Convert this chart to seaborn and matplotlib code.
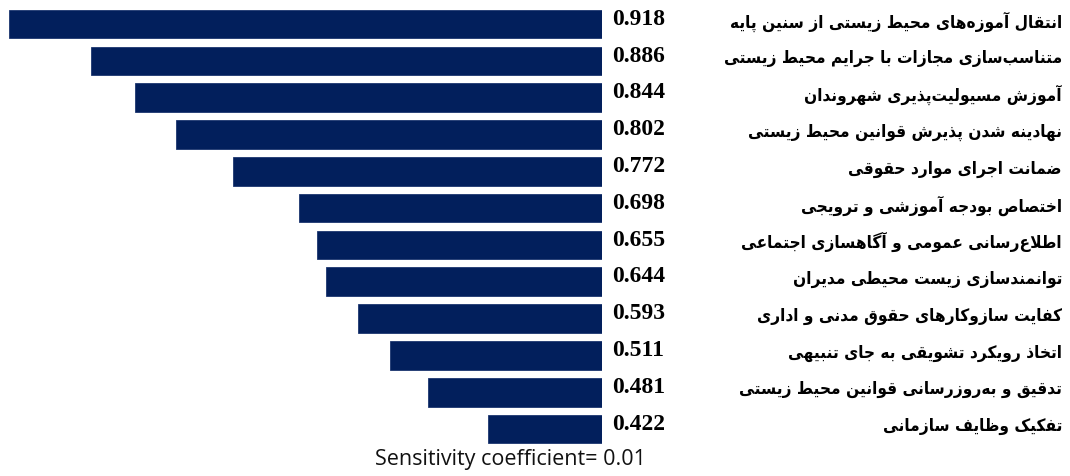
import numpy as np
import pandas as pd
import seaborn as sns
import matplotlib.pyplot as plt
from matplotlib.transforms import blended_transform_factory

# ---------------------------------------------------------
# Data
# ---------------------------------------------------------
items = [
    "انتقال آموزه\u200cهای محیط زیستی از سنین پایه",
    "متناسب\u200cسازی مجازات با جرایم محیط زیستی",
    "آموزش مسیولیت\u200cپذیری شهروندان",
    "نهادینه شدن پذیرش قوانین محیط زیستی",
    "ضمانت اجرای موارد حقوقی",
    "اختصاص بودجه آموزشی و ترویجی",
    "اطلاع\u200cرسانی عمومی و آگاهسازی اجتماعی",
    "توانمندسازی زیست محیطی مدیران",
    "کفایت سازوکارهای حقوق مدنی و اداری",
    "اتخاذ رویکرد تشویقی به جای تنبیهی",
    "تدقیق و به\u200cروزرسانی قوانین محیط زیستی",
    "تفکیک وظایف سازمانی",
]
values = [0.918, 0.886, 0.844, 0.802, 0.772, 0.698, 0.655, 0.644, 0.593, 0.511, 0.481, 0.422]
# relative bar lengths as drawn in the source (longest bar = 1)
bar_length = [1.000, 0.862, 0.788, 0.718, 0.622, 0.511, 0.481, 0.465, 0.411, 0.358, 0.293, 0.192]
note = "Sensitivity coefficient= 0.01"

# ---------------------------------------------------------
# Minimal Persian shaping (matplotlib has no bidi / joining)
# forms: isolated, final, initial, medial
# ---------------------------------------------------------
FORMS = {
    'ا': (0xFE8D, 0xFE8E, None, None), 'آ': (0xFE81, 0xFE82, None, None),
    'ب': (0xFE8F, 0xFE90, 0xFE91, 0xFE92), 'پ': (0xFB56, 0xFB57, 0xFB58, 0xFB59),
    'ت': (0xFE95, 0xFE96, 0xFE97, 0xFE98), 'ث': (0xFE99, 0xFE9A, 0xFE9B, 0xFE9C),
    'ج': (0xFE9D, 0xFE9E, 0xFE9F, 0xFEA0), 'چ': (0xFB7A, 0xFB7B, 0xFB7C, 0xFB7D),
    'ح': (0xFEA1, 0xFEA2, 0xFEA3, 0xFEA4), 'خ': (0xFEA5, 0xFEA6, 0xFEA7, 0xFEA8),
    'د': (0xFEA9, 0xFEAA, None, None), 'ذ': (0xFEAB, 0xFEAC, None, None),
    'ر': (0xFEAD, 0xFEAE, None, None), 'ز': (0xFEAF, 0xFEB0, None, None),
    'ژ': (0xFB8A, 0xFB8B, None, None),
    'س': (0xFEB1, 0xFEB2, 0xFEB3, 0xFEB4), 'ش': (0xFEB5, 0xFEB6, 0xFEB7, 0xFEB8),
    'ص': (0xFEB9, 0xFEBA, 0xFEBB, 0xFEBC), 'ض': (0xFEBD, 0xFEBE, 0xFEBF, 0xFEC0),
    'ط': (0xFEC1, 0xFEC2, 0xFEC3, 0xFEC4), 'ظ': (0xFEC5, 0xFEC6, 0xFEC7, 0xFEC8),
    'ع': (0xFEC9, 0xFECA, 0xFECB, 0xFECC), 'غ': (0xFECD, 0xFECE, 0xFECF, 0xFED0),
    'ف': (0xFED1, 0xFED2, 0xFED3, 0xFED4), 'ق': (0xFED5, 0xFED6, 0xFED7, 0xFED8),
    'ک': (0xFB8E, 0xFB8F, 0xFB90, 0xFB91), 'گ': (0xFB92, 0xFB93, 0xFB94, 0xFB95),
    'ل': (0xFEDD, 0xFEDE, 0xFEDF, 0xFEE0), 'م': (0xFEE1, 0xFEE2, 0xFEE3, 0xFEE4),
    'ن': (0xFEE5, 0xFEE6, 0xFEE7, 0xFEE8), 'ه': (0xFEE9, 0xFEEA, 0xFEEB, 0xFEEC),
    'و': (0xFEED, 0xFEEE, None, None), 'ی': (0xFBFC, 0xFBFD, 0xFBFE, 0xFBFF),
}
LAM_ALEF = {'ا': (0xFEFB, 0xFEFC), 'آ': (0xFEF5, 0xFEF6)}


def links_next(c):
    return c in FORMS and FORMS[c][2] is not None


def shape(text):
    out = []
    n = len(text)
    i = 0
    while i < n:
        c = text[i]
        if c not in FORMS:
            if c != '\u200c':
                out.append(c)
            i += 1
            continue
        jp = i > 0 and links_next(text[i - 1])
        if c == 'ل' and i + 1 < n and text[i + 1] in LAM_ALEF:
            iso, fin = LAM_ALEF[text[i + 1]]
            out.append(chr(fin if jp else iso))
            i += 2
            continue
        nxt = text[i + 1] if i + 1 < n else ''
        jn = links_next(c) and nxt in FORMS
        f = FORMS[c]
        if jp and jn:
            g = f[3]
        elif jp:
            g = f[1]
        elif jn:
            g = f[2]
        else:
            g = f[0]
        out.append(chr(g))
        i += 1
    return ''.join(reversed(out))


# ---------------------------------------------------------
# Plot
# ---------------------------------------------------------
df = pd.DataFrame({'item': items, 'value': values, 'bar_length': bar_length})

sns.set_style('white')
fig = plt.figure(figsize=(10.7, 4.77), dpi=100)
ax = fig.add_axes([0.0, 0.060, 0.5626, 0.926])

sns.barplot(data=df, x='bar_length', y='item', color='#021f5c', width=0.78,
            edgecolor='#1c3670', linewidth=0.6, saturation=1, ax=ax)

# bars grow leftwards from a common right edge
ax.set_xlim(1.015, 0)
ax.set_ylim(len(items) - 0.5, -0.5)
ax.axis('off')

trans = blended_transform_factory(fig.transFigure, ax.transData)
for i, row in df.iterrows():
    ax.text(612 / 1070, i - 0.16, f"{row['value']:.3f}", transform=trans,
            ha='left', va='center', fontsize=17, fontweight='bold',
            family=['Liberation Serif', 'DejaVu Serif'], color='black')
    ax.text(1062 / 1070, i - 0.1, shape(row['item']), transform=trans,
            ha='right', va='center', fontsize=12.3, fontweight='bold',
            fontstretch='condensed', family=['DejaVu Sans'], color='black')

fig.text(510 / 1070, 1 - 460 / 477, note, ha='center', va='center',
         fontsize=15.5, family=['Open Sans', 'DejaVu Sans'], color='#111111')

plt.savefig("out.png", dpi=100)
